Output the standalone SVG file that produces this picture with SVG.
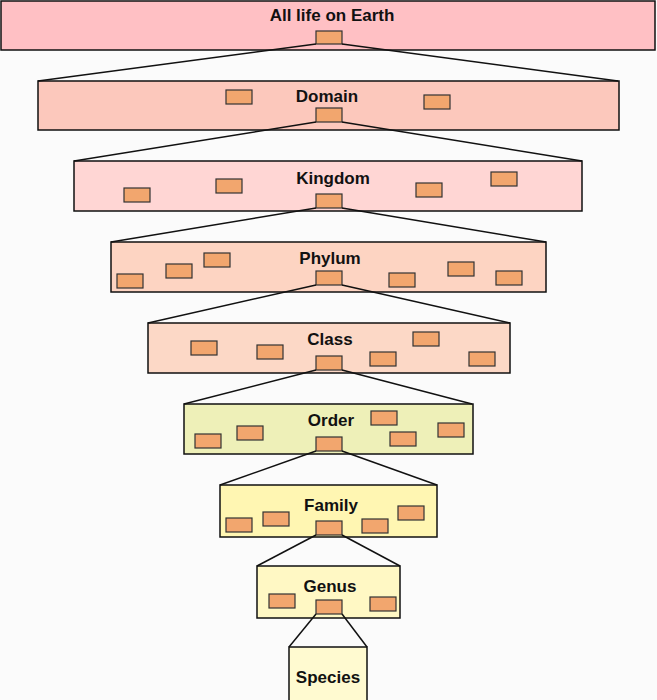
<svg xmlns="http://www.w3.org/2000/svg" width="657" height="700" viewBox="0 0 657 700">
<style>
.lvl{stroke:#111;stroke-width:1.5}
.b{fill:#f2a66e;stroke:#333;stroke-width:1.2}
.t{font-family:"Liberation Sans",Arial,sans-serif;font-weight:bold;font-size:17px;fill:#111;text-anchor:middle}
#connectors line{stroke:#111;stroke-width:1.5}
</style>
<rect width="657" height="700" fill="#fbfbfb"/>
<g id="life"><rect class="lvl" x="1" y="1" width="654" height="49" fill="#ffc0c4"/><text class="t" x="332" y="21">All life on Earth</text>
<rect class="b" x="316" y="31" width="26" height="13"/></g>
<g id="domain"><rect class="lvl" x="38" y="81" width="581" height="49" fill="#fcc8bc"/><text class="t" x="327" y="102">Domain</text>
<rect class="b" x="226" y="90" width="26" height="14"/><rect class="b" x="424" y="95" width="26" height="14"/><rect class="b" x="316" y="108" width="26" height="14"/></g>
<g id="kingdom"><rect class="lvl" x="74" y="161" width="508" height="50" fill="#ffd6d4"/><text class="t" x="333" y="184">Kingdom</text>
<rect class="b" x="124" y="188" width="26" height="14"/><rect class="b" x="216" y="179" width="26" height="14"/><rect class="b" x="416" y="183" width="26" height="14"/><rect class="b" x="491" y="172" width="26" height="14"/><rect class="b" x="316" y="194" width="26" height="14"/></g>
<g id="phylum"><rect class="lvl" x="111" y="242" width="435" height="50" fill="#fdd4c2"/><text class="t" x="330" y="264">Phylum</text>
<rect class="b" x="117" y="274" width="26" height="14"/><rect class="b" x="166" y="264" width="26" height="14"/><rect class="b" x="204" y="253" width="26" height="14"/><rect class="b" x="389" y="273" width="26" height="14"/><rect class="b" x="448" y="262" width="26" height="14"/><rect class="b" x="496" y="271" width="26" height="14"/><rect class="b" x="316" y="271" width="26" height="14"/></g>
<g id="class"><rect class="lvl" x="148" y="323" width="362" height="50" fill="#fcd8c6"/><text class="t" x="330" y="345">Class</text>
<rect class="b" x="191" y="341" width="26" height="14"/><rect class="b" x="257" y="345" width="26" height="14"/><rect class="b" x="413" y="332" width="26" height="14"/><rect class="b" x="370" y="352" width="26" height="14"/><rect class="b" x="469" y="352" width="26" height="14"/><rect class="b" x="316" y="356" width="26" height="14"/></g>
<g id="order"><rect class="lvl" x="184" y="404" width="289" height="50" fill="#eef0b8"/><text class="t" x="331" y="426">Order</text>
<rect class="b" x="195" y="434" width="26" height="14"/><rect class="b" x="237" y="426" width="26" height="14"/><rect class="b" x="371" y="411" width="26" height="14"/><rect class="b" x="390" y="432" width="26" height="14"/><rect class="b" x="438" y="423" width="26" height="14"/><rect class="b" x="316" y="437" width="26" height="14"/></g>
<g id="family"><rect class="lvl" x="220" y="485" width="217" height="52" fill="#fff6b2"/><text class="t" x="331" y="511">Family</text>
<rect class="b" x="226" y="518" width="26" height="14"/><rect class="b" x="263" y="512" width="26" height="14"/><rect class="b" x="362" y="519" width="26" height="14"/><rect class="b" x="398" y="506" width="26" height="14"/><rect class="b" x="316" y="521" width="26" height="14"/></g>
<g id="genus"><rect class="lvl" x="257" y="566" width="143" height="52" fill="#fff8c4"/><text class="t" x="330" y="592">Genus</text>
<rect class="b" x="269" y="594" width="26" height="14"/><rect class="b" x="370" y="597" width="26" height="14"/><rect class="b" x="316" y="600" width="26" height="14"/></g>
<g id="species"><rect class="lvl" x="289" y="647" width="78" height="55" fill="#fffad0"/><text class="t" x="328" y="683">Species</text></g>
<g id="connectors">
<line x1="316" y1="44" x2="38" y2="81"/><line x1="342" y1="44" x2="618" y2="81"/>
<line x1="316" y1="122" x2="74" y2="161"/><line x1="342" y1="122" x2="582" y2="161"/>
<line x1="316" y1="208" x2="111" y2="242"/><line x1="342" y1="208" x2="546" y2="242"/>
<line x1="316" y1="285" x2="148" y2="323"/><line x1="342" y1="285" x2="510" y2="323"/>
<line x1="316" y1="370" x2="184" y2="404"/><line x1="342" y1="370" x2="472" y2="404"/>
<line x1="316" y1="451" x2="220" y2="485"/><line x1="342" y1="451" x2="437" y2="485"/>
<line x1="316" y1="535" x2="257" y2="566"/><line x1="342" y1="535" x2="400" y2="566"/>
<line x1="316" y1="614" x2="289" y2="647"/><line x1="342" y1="614" x2="367" y2="647"/>
</g>
</svg>
